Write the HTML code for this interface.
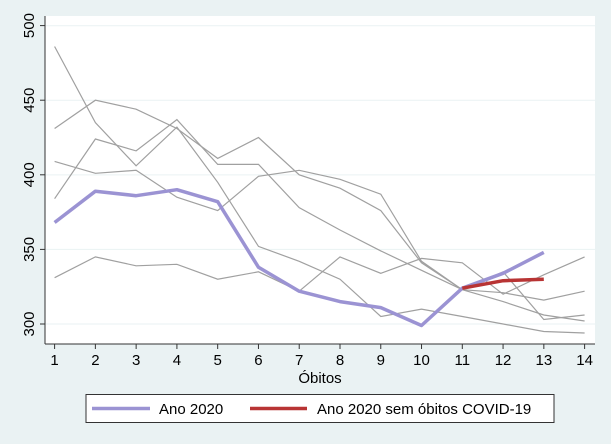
<!DOCTYPE html>
<html><head><meta charset="utf-8"><style>
html,body{margin:0;padding:0;background:#eaf2f3;}
svg{display:block;font-family:"Liberation Sans",sans-serif;}
</style></head><body>
<svg id="s" width="611" height="444" xmlns="http://www.w3.org/2000/svg">
<rect width="611" height="444" fill="#eaf2f3"/>
<rect x="45" y="16" width="550" height="328" fill="#fff"/>
<g stroke="#eaf2f3" stroke-width="1">
<line x1="45" x2="595" y1="25.7" y2="25.7"/>
<line x1="45" x2="595" y1="100.3" y2="100.3"/>
<line x1="45" x2="595" y1="174.9" y2="174.9"/>
<line x1="45" x2="595" y1="249.4" y2="249.4"/>
<line x1="45" x2="595" y1="324" y2="324"/>
</g>
<g id="gray" fill="none" stroke="#a0a0a0" stroke-width="1.2"></g>
<g id="main" fill="none" stroke-linejoin="round"></g>
<line x1="45" y1="16" x2="45" y2="344" stroke="#333" stroke-width="1"/>
<line x1="45" y1="344" x2="595" y2="344" stroke="#333" stroke-width="1"/>
<g id="ticks" stroke="#333" stroke-width="1"></g>
<g id="labels" font-size="15" fill="#000" text-anchor="middle"></g>
<text x="320" y="383" font-size="15" text-anchor="middle">Óbitos</text>
<rect x="86" y="394.5" width="468" height="28" fill="#fff" stroke="#333" stroke-width="1"/>
<line x1="92" y1="408.5" x2="150" y2="408.5" stroke="#9b93d3" stroke-width="3.5"/>
<text x="159" y="414" font-size="15">Ano 2020</text>
<line x1="250" y1="408.5" x2="307" y2="408.5" stroke="#b83434" stroke-width="3.5"/>
<text x="317" y="414" font-size="15">Ano 2020 sem óbitos COVID-19</text>
</svg>
<script>
var X=function(i){return 54.6+(i-1)*40.77;},Y=function(v){return 324-(v-300)*1.492;};
function pts(a,s){s=s||1;return a.map(function(v,k){return X(k+s).toFixed(1)+","+Y(v).toFixed(1);}).join(" ");}
var NS="http://www.w3.org/2000/svg";
function pl(g,a,s,attrs){var p=document.createElementNS(NS,"polyline");p.setAttribute("points",pts(a,s));for(var k in attrs)p.setAttribute(k,attrs[k]);document.getElementById(g).appendChild(p);}
var grays=[
[486,435,406,432,395,352,342,330,305,310,305,300,295,294],
[431,450,444,431,411,425,400,391,376,341,323,321,316,322],
[384,424,416,437,407,407,378,363,349,336,323,315,306,302],
[409,401,403,385,376,399,403,397,387,342,323,335,303,306],
[331,345,339,340,330,335,322,345,334,344,341,320,333,345]];
grays.forEach(function(a){pl("gray",a,1,{});});
pl("main",[311,299],9,{stroke:"#b83434","stroke-width":"2"});
pl("main",[368,389,386,390,382,338,322,315,311,299,324,334,348],1,{stroke:"#9b93d3","stroke-width":"3.5"});
pl("main",[324,329,330],11,{stroke:"#b83434","stroke-width":"3.5"});
var t=document.getElementById("ticks"),l=document.getElementById("labels");
for(var i=1;i<=14;i++){var ln=document.createElementNS(NS,"line");ln.setAttribute("x1",X(i));ln.setAttribute("x2",X(i));ln.setAttribute("y1",344);ln.setAttribute("y2",349);t.appendChild(ln);
var tx=document.createElementNS(NS,"text");tx.setAttribute("x",X(i));tx.setAttribute("y",365);tx.textContent=i;l.appendChild(tx);}
[300,350,400,450,500].forEach(function(v){var ln=document.createElementNS(NS,"line");ln.setAttribute("x1",40);ln.setAttribute("x2",45);ln.setAttribute("y1",Y(v));ln.setAttribute("y2",Y(v));t.appendChild(ln);
var tx=document.createElementNS(NS,"text");tx.setAttribute("transform","translate(34,"+Y(v)+") rotate(-90)");tx.textContent=v;l.appendChild(tx);});
</script>
</body></html>
